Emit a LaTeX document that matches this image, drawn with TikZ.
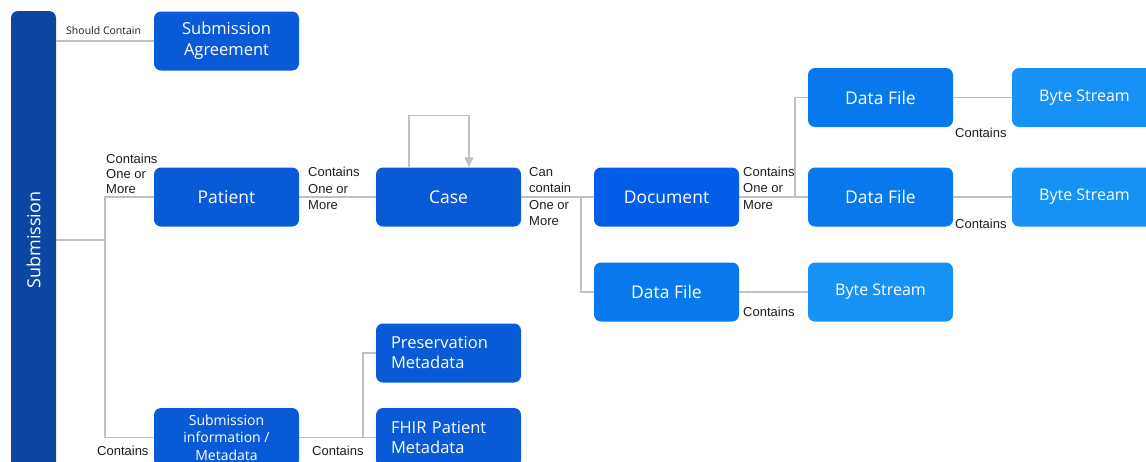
\documentclass[tikz,border=0pt]{standalone}
\usepackage{fontspec}
\setmainfont{Open Sans}
\newfontfamily\labelfont{Liberation Sans}
\usetikzlibrary{arrows.meta}
\definecolor{barblue}{RGB}{11,70,165}
\definecolor{boxblue}{RGB}{8,90,214}
\definecolor{docblue}{RGB}{2,94,230}
\definecolor{fileblue}{RGB}{8,121,236}
\definecolor{byteblue}{RGB}{22,146,247}
\definecolor{linegray}{RGB}{192,192,192}
\definecolor{labeltext}{RGB}{30,30,30}
\begin{document}
\begin{tikzpicture}[x=1pt,y=-1pt,
  box/.style={rectangle, rounded corners=7pt, minimum width=145pt, minimum height=59pt,
    inner sep=0pt, text=white, align=center, fill=boxblue,
    font=\fontsize{17.5}{21}\selectfont},
  docbox/.style={box, fill=docblue},
  filebox/.style={box, fill=fileblue},
  bytebox/.style={box, fill=byteblue, font=\fontsize{16}{20}\selectfont},
  leftbox/.style={box, align=left, text width=115pt, inner xsep=15pt,
    font=\fontsize{16.5}{20}\selectfont},
  conn/.style={draw=linegray, line width=1.3pt},
  lbl/.style={inner sep=0pt, anchor=west, align=left, text=labeltext,
    font=\labelfont\fontsize{13}{16.5}\selectfont},
]
\useasboundingbox (0,0) rectangle (1146,461);
\clip (0,0) rectangle (1146,461);
\fill[white] (0,0) rectangle (1146,461);

% the Submission bar on the left
\node[rectangle, rounded corners=7pt, fill=barblue, minimum width=45pt,
  minimum height=480pt, inner sep=0pt] (sub) at (33.5,251) {};
\node[rotate=90, text=white, inner sep=0pt, font=\fontsize{18}{22}\selectfont]
  (subtext) at (33.5,240) {Submission};

% boxes
\node[box, font=\fontsize{16.5}{21}\selectfont] (agree) at (226.5,41) {Submission\\Agreement};
\node[box] (patient) at (226.5,197) {Patient};
\node[box] (case) at (448.5,197) {Case};
\node[docbox] (doc) at (666.5,197) {Document};
\node[filebox] (df1) at (880.5,97.5) {Data File};
\node[filebox] (df2) at (880.5,197) {Data File};
\node[bytebox] (bs1) at (1084.5,97.5) {Byte Stream};
\node[bytebox] (bs2) at (1084.5,197) {Byte Stream};
\node[filebox] (df3) at (666.5,292) {Data File};
\node[bytebox] (bs3) at (880.5,292) {Byte Stream};
\node[leftbox] (pres) at (448.5,353) {Preservation\\Metadata};
\node[leftbox] (fhir) at (448.5,437.5) {FHIR Patient\\Metadata};
\node[box, font=\fontsize{14}{17.5}\selectfont] (subinfo) at (226.5,437.5)
  {Submission\\information /\\Metadata};

% junction points
\coordinate (j1) at (105,240);
\coordinate (j2) at (363,0);
\coordinate (j3) at (581,0);
\coordinate (j4) at (795,0);

% connectors
\draw[conn] (agree.west -| sub.east) -- (agree.west);
\draw[conn] (j1 -| sub.east) -- (j1);
\draw[conn] (patient.west) -- (patient.west -| j1) -- (subinfo.west -| j1) -- (subinfo.west);
\draw[conn] (subinfo.east) -- (fhir.west -| j2) -- (fhir.west);
\draw[conn] (pres.west) -- (pres.west -| j2) -- (fhir.west -| j2);
\draw[conn] (patient.east) -- (case.west);
\draw[conn, -{Triangle[length=10pt,width=9pt,fill=linegray]}]
  ([xshift=-39.5pt]case.north) -- ++(0,-52) -| ([xshift=20.5pt]case.north);
\draw[conn] (case.east) -- (doc.west);
\draw[conn] (case.east -| j3) -- (df3.west -| j3) -- (df3.west);
\draw[conn] (doc.east) -- (df2.west);
\draw[conn] (df1.west) -- (df1.west -| j4) -- (df2.west -| j4);
\draw[conn] (df1.east) -- (bs1.west);
\draw[conn] (df2.east) -- (bs2.west);
\draw[conn] (df3.east) -- (bs3.west);

% connector labels
\node[lbl, font=\fontsize{10.5}{12}\selectfont] (l0) at (66,31) {Should Contain};
\node[lbl, font=\labelfont\fontsize{13}{15}\selectfont] (l1) at (106,174) {Contains\\One or\\More};
\node[lbl] (l2) at (308,188.5) {Contains\\One or\\More};
\node[lbl] (l3) at (529,196.5) {Can\\contain\\One or\\More};
\node[lbl] (l4) at (743,188) {Contains\\One or\\More};
\node[lbl] (l5) at (955,133) {Contains};
\node[lbl] (l6) at (955,224) {Contains};
\node[lbl] (l7) at (743,312) {Contains};
\node[lbl] (l8) at (97,451) {Contains};
\node[lbl] (l9) at (312,451) {Contains};
\end{tikzpicture}
\end{document}
